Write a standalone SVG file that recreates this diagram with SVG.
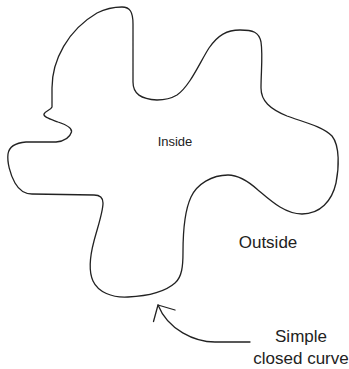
<svg xmlns="http://www.w3.org/2000/svg" width="349" height="369" viewBox="0 0 349 369">
<style>
.ln{fill:none;stroke:#222;stroke-width:1.3;stroke-linecap:round;stroke-linejoin:round}
.t{font-family:"Liberation Sans",Arial,sans-serif;fill:#222}
</style>
<rect width="349" height="369" fill="#fff"/>
<g id="curve">
<path class="ln" d="M122,7 C130,7 133,12 133,24 L133,82 C133,94 141,99 157,100 C166,100 172,98 177,95 C190,86 200,62 209,48 C218,35 227,30 240,30 C253,30 259,32 261,42 C263,55 261,72 261,88 C261,101 270,109 287,116 C303,122 322,126 332,136 C340,146 339,168 336,183 C332,201 320,214 302,214 C285,214 271,201 258,190 C248,181 239,175 228,175 C212,175 197,184 191,197 C184,212 183,232 183,252 C183,266 182,277 175,283 C166,291 148,296 128,297 C112,298 98,292 93,281 C88,270 90,256 94,241 C98,226 103,212 103,203 C103,197 100,195 94,195 L32,194 C24,194 19,190 15,183 C10,174 7,162 8,154 C9,147 14,143 26,142 L56,142 C65,141 70,137 71.5,132 C72.5,128 67,125 58,122 C50,119 43,117 44,114 C45,111 51,110 52,107 L52,88 C52,60 68,30 97,13 C105,9 113,7 122,7 Z"/>
</g>
<g id="labels">
<text class="t" x="175" y="146" font-size="13" text-anchor="middle">Inside</text>
<text class="t" x="268" y="248" font-size="17" text-anchor="middle">Outside</text>
<text class="t" x="301" y="342" font-size="17" text-anchor="middle">Simple</text>
<text class="t" x="301" y="364" font-size="17" text-anchor="middle">closed curve</text>
</g>
<g id="connectors">
<path class="ln" d="M250,342 L215,342 C195,342 168,330 158,305"/>
<path class="ln" d="M153.5,321.5 L158,305 L175,310"/>
</g>
</svg>
